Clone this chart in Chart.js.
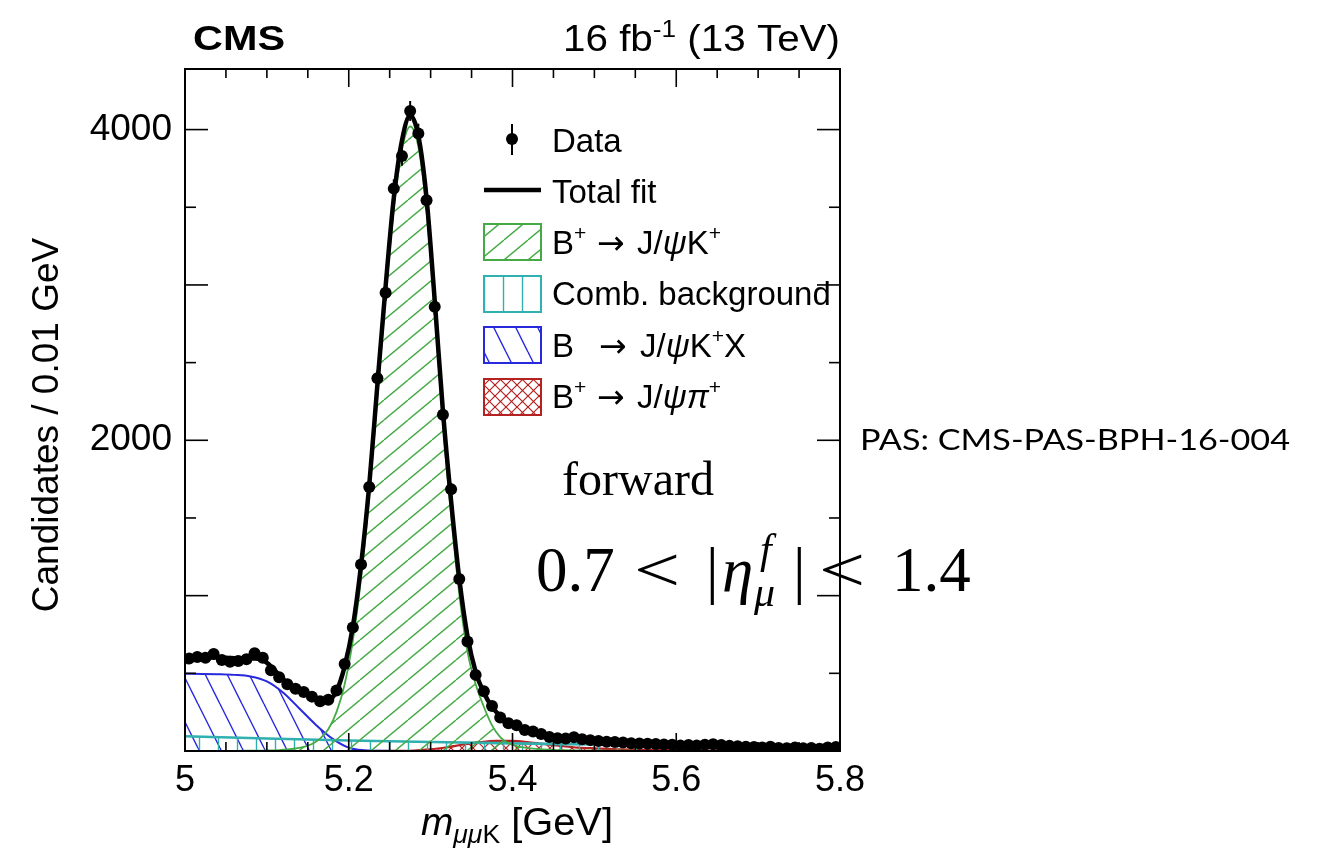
<!DOCTYPE html>
<html>
<head>
<meta charset="utf-8">
<title>B+ -> J/psi K+ mass fit</title>
<script src="https://cdn.jsdelivr.net/npm/chart.js@4.4.1/dist/chart.umd.min.js"></script>
<style>
  html, body { margin: 0; padding: 0; background: #fff; }
  #wrap { width: 1317px; height: 852px; }
</style>
</head>
<body>
<div id="wrap"><canvas id="mass-chart" width="1317" height="852"></canvas></div>
<script>
// bin centres, 0.01 GeV bins
const dataMass = [
  5.005, 5.015, 5.025, 5.035, 5.045, 5.055, 5.065, 5.075, 5.085, 5.095,
  5.105, 5.115, 5.125, 5.135, 5.145, 5.155, 5.165, 5.175, 5.185, 5.195,
  5.205, 5.215, 5.225, 5.235, 5.245, 5.255, 5.265, 5.275, 5.285, 5.295,
  5.305, 5.315, 5.325, 5.335, 5.345, 5.355, 5.365, 5.375, 5.385, 5.395,
  5.405, 5.415, 5.425, 5.435, 5.445, 5.455, 5.465, 5.475, 5.485, 5.495,
  5.505, 5.515, 5.525, 5.535, 5.545, 5.555, 5.565, 5.575, 5.585, 5.595,
  5.605, 5.615, 5.625, 5.635, 5.645, 5.655, 5.665, 5.675, 5.685, 5.695,
  5.705, 5.715, 5.725, 5.735, 5.745, 5.755, 5.765, 5.775, 5.785, 5.795
];
const dataCounts = [
  595, 605, 600, 625, 585, 575, 580, 590, 630, 600,
  520, 475, 430, 400, 380, 350, 320, 330, 390, 560,
  795, 1200, 1700, 2400, 2950, 3620, 3830, 4120, 3975, 3545,
  2860, 2165, 1685, 1107, 705, 490, 385, 290, 215, 178,
  165, 135, 125, 110, 90, 82, 80, 88, 75, 70,
  64, 60, 58, 55, 50, 48, 47, 45, 42, 40,
  36, 38, 35, 40, 44, 38, 33, 30, 27, 25,
  22, 28, 20, 18, 22, 17, 20, 15, 22, 25
];

// fit curves, sampled at the bin centres plus the range ends
const fitMass = [5.0, ...dataMass, 5.8];
const totalFit = [
  592,
  593, 596, 600, 603, 602, 598, 596, 596, 596, 585,
  545, 488, 438, 404, 376, 348, 326, 328, 385, 545,
  800, 1195, 1710, 2360, 2990, 3560, 3930, 4090, 3960, 3560,
  2900, 2190, 1610, 1110, 740, 510, 375, 285, 225, 185,
  160, 140, 123, 108, 96, 87, 80, 74, 69, 65,
  61, 58, 55, 52, 50, 48, 46, 44, 42, 40,
  39, 37, 36, 35, 34, 33, 32, 31, 30, 29,
  28, 27, 26, 25.5, 25, 24.5, 24, 23.5, 23, 22.5,
  22
];
const signalFit = [
  0,
  0, 0, 0, 0, 1, 1, 1, 2, 2, 3,
  4, 6, 10, 16, 26, 45, 80, 140, 250, 430,
  710, 1110, 1640, 2280, 2930, 3490, 3870, 4020, 3890, 3480,
  2830, 2110, 1520, 1010, 640, 430, 285, 165, 90, 50,
  32, 22, 15, 11, 8, 6, 5, 4, 3, 2.5,
  2, 2, 2, 1.5, 1.5, 1, 1, 1, 1, 1,
  0.5, 0.5, 0.5, 0.5, 0.5, 0.3, 0.3, 0.3, 0.3, 0.3,
  0.2, 0.2, 0.2, 0.2, 0.1, 0.1, 0.1, 0.1, 0.1, 0.1,
  0
];

const combMass = [5.0, 5.1, 5.2, 5.3, 5.4, 5.5, 5.6, 5.7, 5.8];
const combFit = [95, 80, 68, 58, 49, 42, 35, 29, 24];

const kxMass = [5.0, 5.02, 5.04, 5.06, 5.08, 5.1, 5.12, 5.14, 5.16, 5.18, 5.2, 5.22, 5.24, 5.27, 5.4, 5.6, 5.8];
const kxFit = [497, 496, 494, 490, 480, 448, 375, 272, 168, 80, 22, 5, 1, 0, 0, 0, 0];

const piMass = [5.0, 5.22, 5.26, 5.28, 5.3, 5.32, 5.34, 5.36, 5.38, 5.4, 5.42, 5.44, 5.46, 5.48, 5.5, 5.53, 5.56, 5.6, 5.65, 5.7, 5.8];
const piFit = [0, 0, 1, 3, 10, 24, 42, 57, 65, 65, 56, 44, 32, 22, 17, 11, 7, 4, 2, 1, 0];

const xTicks = [5.0, 5.2, 5.4, 5.6, 5.8];
const yLabelled = [2000, 4000];

const SANS = '"Liberation Sans", Arial, Helvetica, sans-serif';
const SERIF = '"Liberation Serif", "Times New Roman", serif';
const ARROW = '"DejaVu Sans", sans-serif';

const GREEN = '#45aa45';
const CYAN = '#30b0b0';
const BLUE = '#2828dc';
const RED = '#b42222';

function pts(xs, ys) {
  return xs.map((x, i) => ({ x: x, y: ys[i] }));
}

// hatch patterns like the ROOT fill styles
function hatch(color, kind) {
  const c = document.createElement('canvas');
  let w = 24, h = 20;
  if (kind === 'back') { w = 22; h = 44; }
  if (kind === 'vert') { w = 19; h = 10; }
  if (kind === 'cross') { w = 11; h = 11; }
  c.width = w; c.height = h;
  const g = c.getContext('2d');
  g.strokeStyle = color;
  g.lineWidth = 1.4;
  const seg = (a, b, c2, d) => { g.beginPath(); g.moveTo(a, b); g.lineTo(c2, d); g.stroke(); };
  if (kind === 'fwd') {
    seg(0, h, w, 0); seg(-w, h, 0, 0); seg(w, h, 2 * w, 0);
  } else if (kind === 'back') {
    seg(0, 0, w, h); seg(-w, 0, 0, h); seg(w, 0, 2 * w, h);
  } else if (kind === 'vert') {
    seg(w / 2, -1, w / 2, h + 1);
  } else {
    g.lineWidth = 1.2;
    seg(0, h, w, 0); seg(-w, h, 0, 0); seg(w, h, 2 * w, 0);
    seg(0, 0, w, h); seg(-w, 0, 0, h); seg(w, 0, 2 * w, h);
  }
  return g.createPattern(c, 'repeat');
}

const patSignal = hatch(GREEN, 'fwd');
const patComb = hatch(CYAN, 'vert');
const patKX = hatch(BLUE, 'back');
const patPi = hatch(RED, 'cross');

function setFont(ctx, r) {
  ctx.font = (r.style || '') + ' ' + r.size + 'px ' + (r.family || SANS);
}

function runsWidth(ctx, runs) {
  let w = 0;
  runs.forEach(r => { setFont(ctx, r); w += ctx.measureText(r.t).width; });
  return w;
}

// draw a row of text pieces; a piece with "at" starts at that x
function drawRuns(ctx, x, y, runs) {
  let cx = x;
  runs.forEach(r => {
    setFont(ctx, r);
    if (r.at !== undefined) cx = r.at;
    ctx.fillText(r.t, cx, y + (r.dy || 0));
    cx += ctx.measureText(r.t).width;
  });
  return cx;
}

// text squeezed or stretched to a given width
function fitRuns(ctx, x, y, width, runs) {
  const w = runsWidth(ctx, runs);
  ctx.save();
  ctx.translate(x, y);
  ctx.scale(width / w, 1);
  drawRuns(ctx, 0, 0, runs);
  ctx.restore();
}

// error bars under the data markers
const errorBars = {
  id: 'errorBars',
  beforeDatasetDraw(chart, args) {
    if (args.index !== 0) return;
    const { ctx, scales: { y } } = chart;
    ctx.save();
    ctx.strokeStyle = '#000';
    ctx.lineWidth = 2;
    args.meta.data.forEach((p, i) => {
      const v = dataCounts[i];
      const e = Math.sqrt(v);
      ctx.beginPath();
      ctx.moveTo(p.x, y.getPixelForValue(v + e));
      ctx.lineTo(p.x, y.getPixelForValue(Math.max(0, v - e)));
      ctx.stroke();
    });
    ctx.restore();
  }
};

// frame with ticks pointing inwards, on all four sides
const rootFrame = {
  id: 'rootFrame',
  afterDatasetsDraw(chart) {
    const { ctx, chartArea: a, scales: { x, y } } = chart;
    ctx.save();
    ctx.strokeStyle = '#000';
    ctx.lineWidth = 1.6;
    const ln = (x1, y1, x2, y2) => { ctx.beginPath(); ctx.moveTo(x1, y1); ctx.lineTo(x2, y2); ctx.stroke(); };
    for (let i = 0; i <= 16; i++) {
      const px = x.getPixelForValue(5 + i * 0.05);
      const len = i % 4 === 0 ? 18 : 9;
      ln(px, a.bottom, px, a.bottom - len);
      ln(px, a.top, px, a.top + len);
    }
    for (let v = 0; v <= 4000; v += 500) {
      const py = y.getPixelForValue(v);
      const len = v % 1000 === 0 ? 23 : 11;
      ln(a.left, py, a.left + len, py);
      ln(a.right, py, a.right - len, py);
    }
    ctx.lineWidth = 2;
    ctx.strokeRect(a.left, a.top, a.right - a.left, a.bottom - a.top);
    ctx.restore();
  }
};

function legendBox(ctx, x, y, w, h, pat, color) {
  ctx.fillStyle = pat;
  ctx.fillRect(x, y, w, h);
  ctx.strokeStyle = color;
  ctx.lineWidth = 2;
  ctx.strokeRect(x, y, w, h);
}

const annotations = {
  id: 'annotations',
  afterDraw(chart) {
    const ctx = chart.ctx;
    ctx.save();
    ctx.fillStyle = '#000';
    ctx.textAlign = 'left';
    ctx.textBaseline = 'alphabetic';

    // header
    fitRuns(ctx, 193, 50, 92, [{ t: 'CMS', size: 35, style: 'bold' }]);
    fitRuns(ctx, 563, 51, 277, [
      { t: '16 fb', size: 37 },
      { t: '-1', size: 24, dy: -14 },
      { t: ' (13 TeV)', size: 37 }
    ]);

    // axis titles
    ctx.save();
    ctx.translate(48, 425);
    ctx.rotate(-Math.PI / 2);
    ctx.textAlign = 'center';
    ctx.textBaseline = 'middle';
    ctx.font = '37px ' + SANS;
    ctx.fillText('Candidates / 0.01 GeV', 0, 0);
    ctx.restore();

    fitRuns(ctx, 421, 835, 192, [
      { t: 'm', size: 38, style: 'italic' },
      { t: 'μμ', size: 26, style: 'italic', dy: 8 },
      { t: 'K', size: 26, dy: 8 },
      { t: ' [GeV]', size: 39 }
    ]);

    // legend
    const tx = 552;
    ctx.strokeStyle = '#000';
    ctx.lineWidth = 2;
    ctx.beginPath(); ctx.moveTo(512, 124); ctx.lineTo(512, 155); ctx.stroke();
    ctx.beginPath(); ctx.arc(512, 139, 6, 0, Math.PI * 2); ctx.fill();
    ctx.font = '33px ' + SANS;
    ctx.fillText('Data', tx, 152);

    ctx.lineWidth = 4.5;
    ctx.beginPath(); ctx.moveTo(484, 190); ctx.lineTo(541, 190); ctx.stroke();
    ctx.fillText('Total fit', tx, 203);

    legendBox(ctx, 484, 224, 57, 36, patSignal, GREEN);
    legendBox(ctx, 484, 276, 57, 36, patComb, CYAN);
    legendBox(ctx, 484, 327, 57, 36, patKX, BLUE);
    legendBox(ctx, 484, 379, 57, 36, patPi, RED);

    ctx.fillStyle = '#000';
    drawRuns(ctx, tx, 254, [
      { t: 'B', size: 33 }, { t: '+', size: 21, dy: -14 },
      { t: '\u2192', size: 33, family: ARROW, at: 597 },
      { t: 'J/', size: 33, at: 637 },
      { t: 'ψ', size: 33, style: 'italic' }, { t: 'K', size: 33 }, { t: '+', size: 21, dy: -14 }
    ]);
    ctx.font = '33px ' + SANS;
    ctx.fillText('Comb. background', tx, 305);
    drawRuns(ctx, tx, 357, [
      { t: 'B', size: 33 },
      { t: '\u2192', size: 33, family: ARROW, at: 599 },
      { t: 'J/', size: 33, at: 640 },
      { t: 'ψ', size: 33, style: 'italic' }, { t: 'K', size: 33 }, { t: '+', size: 21, dy: -14 },
      { t: 'X', size: 33 }
    ]);
    drawRuns(ctx, tx, 408, [
      { t: 'B', size: 33 }, { t: '+', size: 21, dy: -14 },
      { t: '\u2192', size: 33, family: ARROW, at: 597 },
      { t: 'J/', size: 33, at: 637 },
      { t: 'ψπ', size: 33, style: 'italic' }, { t: '+', size: 21, dy: -14 }
    ]);

    // labels on the picture
    ctx.font = '48px ' + SERIF;
    ctx.fillText('forward', 562, 495);

    ctx.font = '63px ' + SERIF;
    ctx.fillText('0.7', 536, 591);
    ctx.fillText('|', 706, 591);
    ctx.fillText('|', 793, 591);
    ctx.fillText('1.4', 892, 591);
    // the relation signs are wider in the original typeface
    [634, 819].forEach(lx => {
      ctx.save();
      ctx.translate(lx, 591);
      ctx.scale(1.3, 1);
      ctx.fillText('<', 0, 0);
      ctx.restore();
    });
    ctx.font = 'italic 63px ' + SERIF;
    ctx.fillText('η', 722, 591);
    ctx.font = 'italic 42px ' + SERIF;
    ctx.fillText('f', 760, 563);
    ctx.fillText('μ', 754, 606);

    fitRuns(ctx, 860, 450, 430, [{ t: 'PAS: CMS-PAS-BPH-16-004', size: 29, family: 'Lato, "Open Sans", sans-serif' }]);
    ctx.restore();
  }
};

const canvas = document.getElementById('mass-chart');
const chart = new Chart(canvas, {
  type: 'line',
  data: {
    datasets: [
      {
        label: 'Data',
        data: pts(dataMass, dataCounts),
        showLine: false,
        pointRadius: 6,
        pointBackgroundColor: '#000',
        pointBorderColor: '#000',
        pointBorderWidth: 0
      },
      {
        label: 'Total fit',
        data: pts(fitMass, totalFit),
        borderColor: '#000',
        borderWidth: 4.5,
        pointRadius: 0,
        cubicInterpolationMode: 'monotone',
        fill: false
      },
      {
        label: 'B+ -> J/psi K+',
        data: pts(fitMass, signalFit),
        borderColor: GREEN,
        borderWidth: 1.8,
        backgroundColor: patSignal,
        pointRadius: 0,
        cubicInterpolationMode: 'monotone',
        fill: 'origin'
      },
      {
        label: 'Comb. background',
        data: pts(combMass, combFit),
        borderColor: CYAN,
        borderWidth: 2.6,
        backgroundColor: patComb,
        pointRadius: 0,
        cubicInterpolationMode: 'monotone',
        fill: 'origin'
      },
      {
        label: 'B -> J/psi K+ X',
        data: pts(kxMass, kxFit),
        borderColor: BLUE,
        borderWidth: 2,
        backgroundColor: patKX,
        pointRadius: 0,
        cubicInterpolationMode: 'monotone',
        fill: 'origin'
      },
      {
        label: 'B+ -> J/psi pi+',
        data: pts(piMass, piFit),
        borderColor: RED,
        borderWidth: 2.2,
        backgroundColor: patPi,
        pointRadius: 0,
        cubicInterpolationMode: 'monotone',
        fill: 'origin'
      }
    ]
  },
  options: {
    responsive: false,
    animation: false,
    devicePixelRatio: 1,
    layout: { padding: { left: 0, top: 69, right: 477, bottom: 0 } },
    plugins: {
      legend: { display: false },
      tooltip: { enabled: false }
    },
    scales: {
      x: {
        type: 'linear',
        min: 5.0,
        max: 5.8,
        grid: { display: false, drawTicks: false },
        border: { display: false },
        afterBuildTicks: s => { s.ticks = xTicks.map(v => ({ value: v })); },
        ticks: {
          padding: 8,
          color: '#000',
          maxRotation: 0,
          autoSkip: false,
          font: { family: SANS, size: 36 },
          callback: v => String(+v.toFixed(1))
        },
        afterFit: s => { s.height = 101; }
      },
      y: {
        min: 0,
        max: 4390,
        grid: { display: false, drawTicks: false },
        border: { display: false },
        afterBuildTicks: s => { s.ticks = yLabelled.map(v => ({ value: v })); },
        ticks: {
          padding: 13,
          color: '#000',
          font: { family: SANS, size: 37 },
          callback: v => String(v)
        },
        afterFit: s => { s.width = 185; }
      }
    }
  },
  plugins: [errorBars, rootFrame, annotations]
});
</script>
</body>
</html>
